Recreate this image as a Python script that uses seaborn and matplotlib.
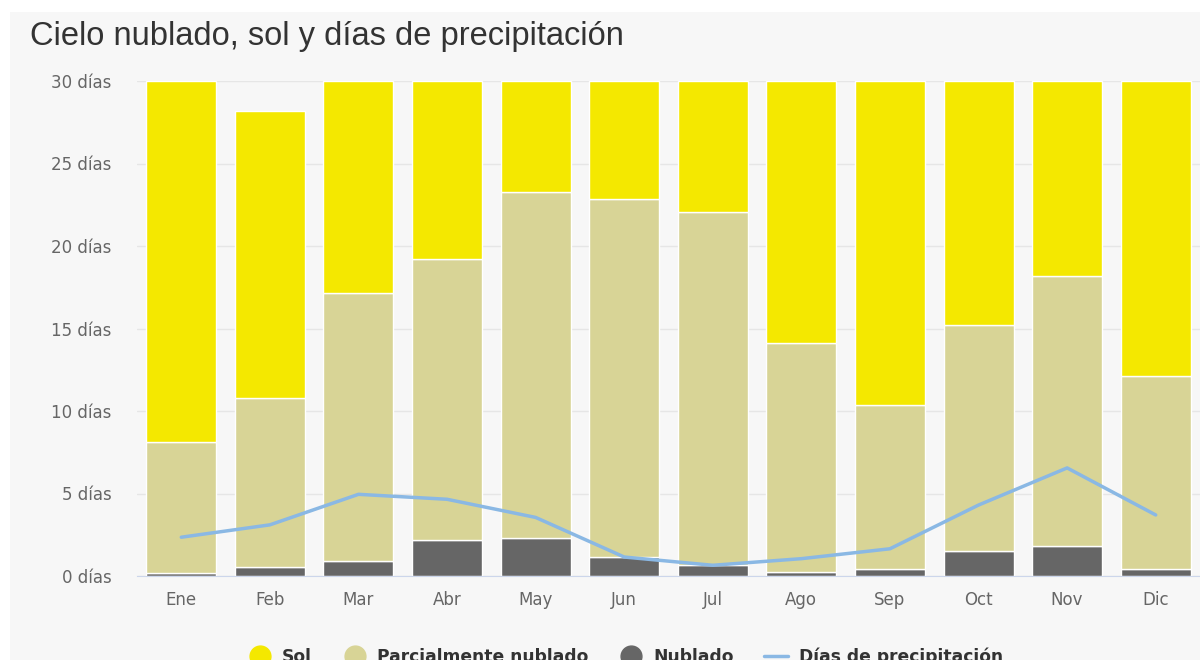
import numpy as np
import pandas as pd
import matplotlib
matplotlib.use("Agg")
import matplotlib.pyplot as plt
import seaborn as sns
from matplotlib.lines import Line2D
from matplotlib.patches import Rectangle

months = ['Ene', 'Feb', 'Mar', 'Abr', 'May', 'Jun', 'Jul', 'Ago', 'Sep', 'Oct', 'Nov', 'Dic']
nublado = [0.2, 0.55, 0.9, 2.2, 2.3, 1.15, 0.65, 0.25, 0.45, 1.5, 1.8, 0.45]
parcial = [7.9, 10.25, 16.25, 17.0, 21.0, 21.7, 21.4, 13.85, 9.9, 13.7, 16.4, 11.65]
total = [30, 28.2, 30, 30, 30, 30, 30, 30, 30, 30, 30, 30]
precip = [2.35, 3.1, 4.95, 4.65, 3.55, 1.15, 0.65, 1.05, 1.65, 4.3, 6.55, 3.7]

c_sol = '#f4e800'
c_parcial = '#d8d496'
c_nublado = '#666666'
c_line = '#8ab8e4'

df = pd.DataFrame({'mes': months, 'nublado': nublado, 'parcial': parcial, 'total': total, 'precip': precip})
df['base_sol'] = df['nublado'] + df['parcial']
df['sol'] = df['total'] - df['base_sol']

sns.set_style('white')
plt.rcParams['font.family'] = ['DejaVu Sans']

fig = plt.figure(figsize=(12, 6.6), dpi=100, facecolor='white')
fig.patches.append(Rectangle((10 / 1200, 0), 1, 1 - 12 / 660, transform=fig.transFigure,
                             facecolor='#f7f7f7', edgecolor='none', zorder=-10))
ax = fig.add_axes([137 / 1200, 1 - 576 / 660, 1 - 137 / 1200, (576 - 81) / 660])
ax.set_facecolor('#f7f7f7')

kw = dict(width=0.79, edgecolor='white', linewidth=1, ax=ax, zorder=2)
sns.barplot(data=df, x='mes', y='nublado', color=c_nublado, saturation=1, **kw)
sns.barplot(data=df, x='mes', y='parcial', bottom=df['nublado'], color=c_parcial, saturation=1, **kw)
sns.barplot(data=df, x='mes', y='sol', bottom=df['base_sol'], color=c_sol, saturation=1, **kw)
sns.lineplot(x=np.arange(len(months)), y=df['precip'], color=c_line, linewidth=2.5, ax=ax, zorder=3)

ax.set_xlim(-0.5, 11.5)
ax.set_ylim(0, 30)
ax.set_yticks(range(0, 31, 5))
ax.set_yticklabels([f'{v} días' for v in range(0, 31, 5)], color='#666666', fontsize=12)
ax.set_xticks(range(len(months)))
ax.set_xticklabels(months, color='#666666', fontsize=12)
ax.set_xlabel('')
ax.set_ylabel('')
ax.grid(axis='y', color='#e6e6e6', linewidth=1, zorder=0)
ax.set_axisbelow(True)
for s in ['top', 'right', 'left']:
    ax.spines[s].set_visible(False)
ax.spines['bottom'].set_color('#ccd6eb')
ax.tick_params(axis='x', length=8.5, color='#ccd6eb', pad=2)
ax.tick_params(axis='y', length=0, pad=18.5)

fig.text(30 / 1200, 1 - 36 / 660, 'Cielo nublado, sol y días de precipitación', fontsize=23.5,
         color='#333333', va='center', ha='left', family='Liberation Sans')

handles = [
    Line2D([], [], marker='o', linestyle='none', markersize=15, color=c_sol),
    Line2D([], [], marker='o', linestyle='none', markersize=15, color=c_parcial),
    Line2D([], [], marker='o', linestyle='none', markersize=15, color=c_nublado),
    Line2D([], [], color=c_line, linewidth=2.5),
]
labels = ['Sol', 'Parcialmente nublado', 'Nublado', 'Días de precipitación']
fig.legend(handles, labels, loc='center', bbox_to_anchor=(0.521, 1 - 657 / 660), ncol=4, frameon=False,
           prop={'weight': 'bold', 'size': 12.3}, labelcolor='#333333', handlelength=1.4,
           columnspacing=1.8, handletextpad=0.6)

fig.savefig('out.png', dpi=100, facecolor='white')
